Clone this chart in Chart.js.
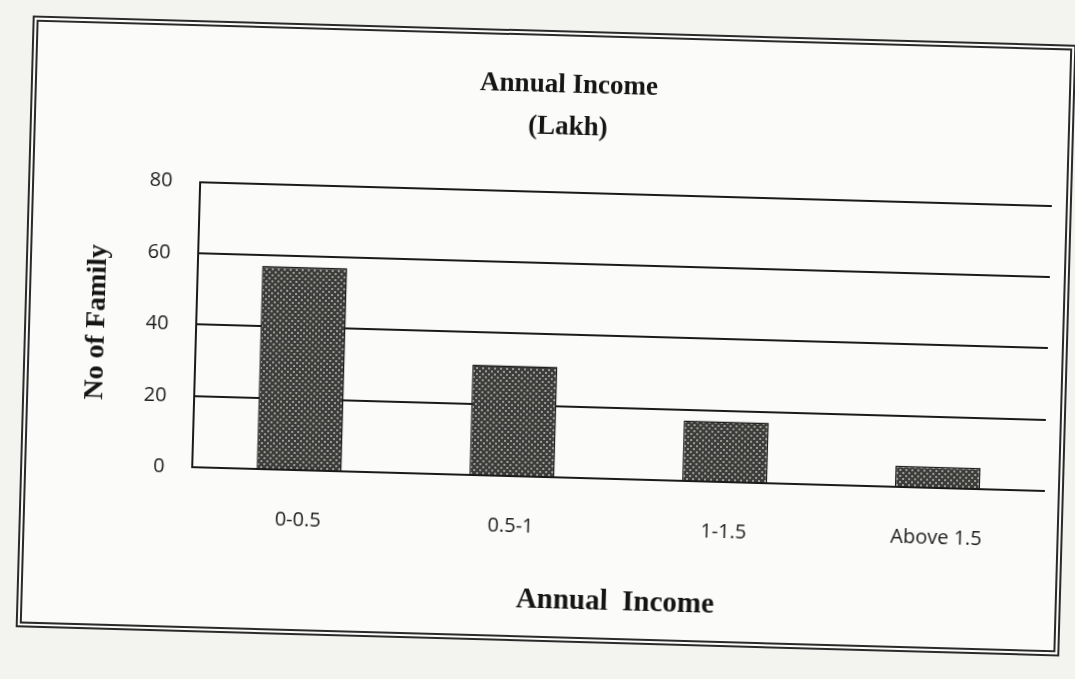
<!DOCTYPE html>
<html>
<head>
<meta charset="utf-8">
<script src="https://cdn.jsdelivr.net/npm/chart.js@4.4.1/dist/chart.umd.min.js"></script>
<style>
    html, body { margin: 0; padding: 0; background: #f3f3f0; }
    body { width: 1075px; height: 679px; overflow: hidden; position: relative; }
    #frame {
        position: absolute;
        left: 24px; top: 30px;
        width: 1032px; height: 600px;
        border: 6px double #2a2a2a;
        background: #fbfbf9;
        transform: rotate(1.6deg);
        transform-origin: 50% 50%;
    }
    #chartIngresos { display: block; }
</style>
</head>
<body>
<div id="frame">
    <canvas id="chartIngresos" width="1032" height="600"></canvas>
</div>
<script>
// Datos del gráfico
const categorias = ['0-0.5', '0.5-1', '1-1.5', 'Above 1.5'];
const familias = [57, 31, 17, 6];
const ticksY = [0, 20, 40, 60, 80];

// Relleno tramado de las barras (oscuro con puntos claros)
function crearTrama() {
    const c = document.createElement('canvas');
    c.width = 6;
    c.height = 6;
    const g = c.getContext('2d');
    g.fillStyle = '#3c3c3a';
    g.fillRect(0, 0, 6, 6);
    g.fillStyle = '#9c9c98';
    g.fillRect(0, 0, 2, 2);
    g.fillRect(3, 3, 2, 2);
    return g.createPattern(c, 'repeat');
}

const ctx = document.getElementById('chartIngresos');
const trama = crearTrama();

new Chart(ctx, {
    type: 'bar',
    data: {
        labels: categorias,
        datasets: [{
            label: 'No of Family',
            data: familias,
            backgroundColor: trama,
            borderColor: '#1e1e1e',
            borderWidth: 1.5,
            barPercentage: 0.4,
            categoryPercentage: 1
        }]
    },
    options: {
        responsive: false,
        animation: false,
        layout: { padding: { left: 46, right: 14, top: 28, bottom: 14 } },
        plugins: {
            legend: { display: false },
            tooltip: { enabled: false },
            title: {
                display: true,
                text: ['Annual Income', '(Lakh)'],
                color: '#151515',
                font: { family: 'Liberation Serif', size: 27, weight: 'bold', lineHeight: 1.55 },
                padding: { top: 0, bottom: 44 }
            }
        },
        scales: {
            x: {
                grid: { display: false, drawTicks: false },
                border: { display: true, color: '#1a1a1a', width: 2 },
                ticks: {
                    color: '#1c1c1c',
                    font: { family: 'Open Sans', size: 20 },
                    padding: 38
                },
                title: {
                    display: true,
                    text: 'Annual  Income',
                    color: '#151515',
                    font: { family: 'Liberation Serif', size: 29, weight: 'bold' },
                    padding: { top: 6 }
                }
            },
            y: {
                min: 0,
                max: 80,
                afterBuildTicks: axis => {
                    axis.ticks = ticksY.map(v => ({ value: v }));
                },
                grid: { color: '#1a1a1a', lineWidth: 2, drawTicks: false },
                border: { display: true, color: '#1a1a1a', width: 2 },
                ticks: {
                    color: '#1c1c1c',
                    font: { family: 'Open Sans', size: 20 },
                    padding: 28
                },
                title: {
                    display: true,
                    text: 'No of Family',
                    color: '#151515',
                    font: { family: 'Liberation Serif', size: 28, weight: 'bold' },
                    padding: { bottom: 4 }
                }
            }
        }
    }
});
</script>
</body>
</html>
